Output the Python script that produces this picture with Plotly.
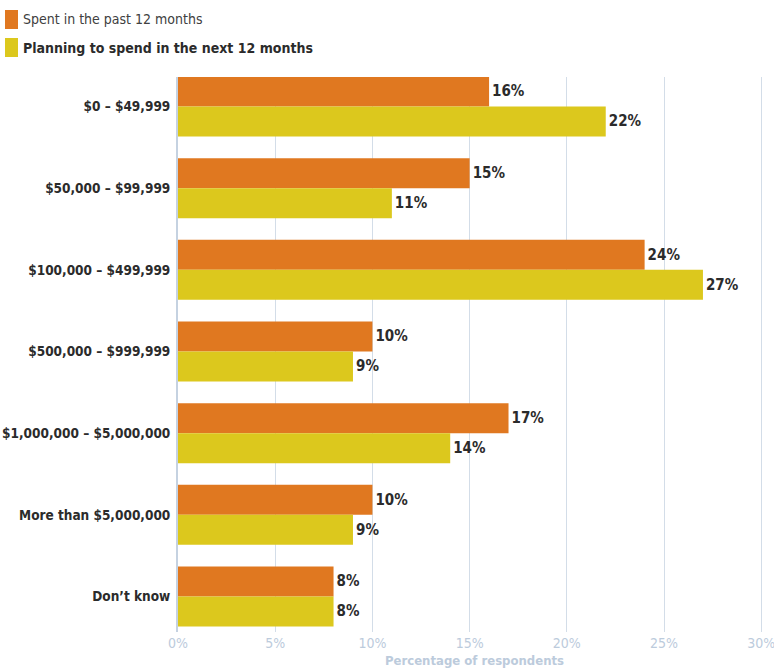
import plotly.graph_objects as go

# Spending brackets (top to bottom) and share of respondents, in percent
categories = [
    "$0 – $49,999",
    "$50,000 – $99,999",
    "$100,000 – $499,999",
    "$500,000 – $999,999",
    "$1,000,000 – $5,000,000",
    "More than $5,000,000",
    "Don’t know",
]
spent_past = [16, 15, 24, 10, 17, 10, 8]
planning_next = [22, 11, 27, 9, 14, 9, 8]
series_names = ["Spent in the past 12 months", "Planning to spend in the next 12 months"]
x_ticks = [0, 5, 10, 15, 20, 25, 30]

ORANGE = "#e07820"
YELLOW = "#dcc81d"
GRID = "#d3dde8"
PALE = "#bccbdc"
DARK = "#2b2b2b"
FONT = "DejaVu Sans Condensed, Liberation Sans Narrow, sans-serif"

W, H = 774, 669
L, R, T, B = 178, 3, 77, 37
PW, PH = W - L - R, H - T - B

fig = go.Figure()
for vals, color, name in [(spent_past, ORANGE, series_names[0]),
                          (planning_next, YELLOW, series_names[1])]:
    fig.add_trace(go.Bar(
        y=categories, x=vals, orientation="h", name=name,
        marker=dict(color=color, line=dict(width=0)),
        text=[f"{v}%" for v in vals], textposition="outside",
        textfont=dict(family=FONT, size=15, color=DARK, weight="bold"),
        cliponaxis=False, showlegend=False,
    ))

# Legend drawn as swatches with labels in the top-left corner
def px_x(px):
    return (px - L) / PW

def px_y(py):
    return (H - B - py) / PH

legend_items = [(series_names[0], ORANGE, 10, 29, "normal", "#404040"),
                (series_names[1], YELLOW, 38, 57, "bold", DARK)]
for label, color, y0, y1, weight, tcolor in legend_items:
    fig.add_shape(type="rect", xref="paper", yref="paper",
                  x0=px_x(5), x1=px_x(18), y0=px_y(y1), y1=px_y(y0),
                  fillcolor=color, line=dict(width=0))
    fig.add_annotation(xref="paper", yref="paper", x=px_x(21), y=px_y((y0 + y1) / 2),
                       text=label, showarrow=False, xanchor="left", yanchor="middle",
                       font=dict(family=FONT, size=14, color=tcolor, weight=weight))

fig.update_layout(
    width=W, height=H,
    margin=dict(l=L, r=R, t=T, b=B, autoexpand=False),
    paper_bgcolor="white", plot_bgcolor="white",
    barmode="group", bargap=0.265, bargroupgap=0,
    xaxis=dict(
        range=[0, 30.5], tickvals=x_ticks, ticktext=[f"{v}%" for v in x_ticks],
        showgrid=True, gridcolor=GRID, gridwidth=1, zeroline=False,
        showline=False, ticks="", ticklabelstandoff=1, automargin=False,
        ticklabeloverflow="allow",
        tickfont=dict(family=FONT, size=14, color=PALE),
        title=dict(text="Percentage of respondents", standoff=5,
                   font=dict(family=FONT, size=13, color=PALE, weight="bold")),
    ),
    yaxis=dict(
        type="category", range=[6.435, -0.361], automargin=False,
        showgrid=False, zeroline=False,
        showline=True, linecolor="#c5d2e1", linewidth=2,
        ticks="", ticklabelstandoff=3,
        tickfont=dict(family=FONT, size=13.5, color=DARK, weight="bold"),
    ),
)

fig.write_html("out.html")
